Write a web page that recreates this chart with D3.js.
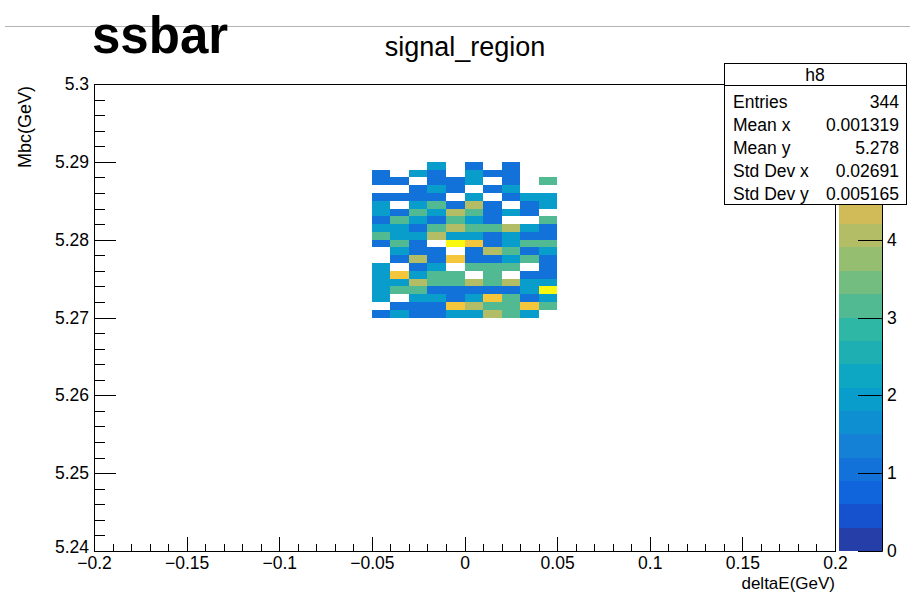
<!DOCTYPE html>
<html>
<head>
<meta charset="utf-8">
<script src="https://cdn.jsdelivr.net/npm/d3@7/dist/d3.min.js"></script>
<style>
  html, body { margin: 0; padding: 0; background: #fff; }
  svg { display: block; }
  text { font-family: "Liberation Sans", Arial, Helvetica, sans-serif; fill: #000; }
</style>
</head>
<body>
<svg id="c" width="910" height="593"></svg>
<script>
// ---- histogram h8: deltaE vs Mbc, 0.01 GeV x 0.001 GeV bins ----
const xBinLow = [-0.05, -0.04, -0.03, -0.02, -0.01, 0.00, 0.01, 0.02, 0.03, 0.04];
const xBinWidth = 0.01;
// rows listed from the top (highest Mbc) down
const yBinLow = [5.289, 5.288, 5.287, 5.286, 5.285, 5.284, 5.283, 5.282, 5.281, 5.280,
                 5.279, 5.278, 5.277, 5.276, 5.275, 5.274, 5.273, 5.272, 5.271, 5.270];
const yBinWidth = 0.001;
const counts = [
  [0,0,0,2,0,1,0,1,0,0],
  [1,0,2,1,0,2,1,1,0,0],
  [1,1,0,1,1,2,0,1,0,3],
  [0,0,1,2,1,0,1,2,0,0],
  [1,1,1,1,0,2,0,1,2,2],
  [2,0,2,3,1,4,1,0,1,2],
  [2,1,3,2,4,3,1,2,1,0],
  [1,3,2,1,3,2,1,0,0,3],
  [2,2,1,3,4,3,3,4,2,1],
  [3,2,2,4,2,2,1,2,1,1],
  [1,3,1,0,6,5,1,2,3,3],
  [0,2,1,1,0,1,4,3,1,2],
  [0,1,4,1,5,1,1,2,3,1],
  [2,0,1,2,0,3,3,3,0,1],
  [2,5,2,3,3,0,3,0,1,1],
  [2,2,4,3,3,4,3,4,2,2],
  [2,3,3,1,1,1,1,1,2,6],
  [2,0,2,2,1,2,5,3,1,2],
  [0,1,1,1,5,4,3,3,5,3],
  [1,2,1,1,2,2,4,3,2,0]
];

// axis ranges and tick values
const xDomain = [-0.2, 0.2];
const yDomain = [5.24, 5.30];
const zDomain = [0, 6];
const xMajorTicks = [-0.2, -0.15, -0.1, -0.05, 0, 0.05, 0.1, 0.15, 0.2];
const yMajorTicks = [5.24, 5.25, 5.26, 5.27, 5.28, 5.29, 5.30];
// the upper part of the colour bar sits under the stats box
const zTicks = [0, 1, 2, 3, 4];
const nContours = 20;

// stats box
const statTitle = "h8";
const statNames = ["Entries", "Mean x", "Mean y", "Std Dev x", "Std Dev y"];
const statValues = ["344", "0.001319", "5.278", "0.02691", "0.005165"];

const mainTitle = "signal_region";
const tag = "ssbar";
const xTitle = "deltaE(GeV)";
const yTitle = "Mbc(GeV)";

// ---- "bird" gradient palette, 255 colours ----
const birdStops = [0.0000, 0.1250, 0.2500, 0.3750, 0.5000, 0.6250, 0.7500, 0.8750, 1.0000];
const birdR = [0.2082, 0.0592, 0.0780, 0.0232, 0.1802, 0.5301, 0.8186, 0.9956, 0.9764];
const birdG = [0.1664, 0.3599, 0.5041, 0.6419, 0.7178, 0.7492, 0.7328, 0.7862, 0.9832];
const birdB = [0.5293, 0.8684, 0.8385, 0.7914, 0.6425, 0.4662, 0.3499, 0.1968, 0.0539];
const nColors = 255;
const palette = [];
for (let g = 1; g < birdStops.length; g++) {
  const n = Math.floor(nColors * birdStops[g]) - Math.floor(nColors * birdStops[g - 1]);
  for (let c = 0; c < n; c++) {
    const f = c / n;
    const r = birdR[g - 1] + f * (birdR[g] - birdR[g - 1]);
    const gg = birdG[g - 1] + f * (birdG[g] - birdG[g - 1]);
    const b = birdB[g - 1] + f * (birdB[g] - birdB[g - 1]);
    palette.push(d3.rgb(r * 255, gg * 255, b * 255).formatHex());
  }
}
function levelColor(level) {
  let idx = Math.floor((level + 0.99) * nColors / nContours);
  idx = Math.max(0, Math.min(nColors - 1, idx));
  return palette[idx];
}
function zColor(z) {
  const scale = nContours / (zDomain[1] - zDomain[0]);
  const level = Math.floor(0.01 + (z - zDomain[0]) * scale);
  return levelColor(level);
}

// ---- layout ----
const frame = { left: 94, right: 835, top: 84, bottom: 551 };
const bar = { left: 839, right: 882 };

const svg = d3.select("#c");
const x = d3.scaleLinear().domain(xDomain).range([frame.left, frame.right]);
const y = d3.scaleLinear().domain(yDomain).range([frame.bottom, frame.top]);
const zAxisScale = d3.scaleLinear().domain(zDomain).range([frame.bottom, frame.top]);
const fmt = v => String(+v.toFixed(3)).replace("-", "\u2212");

// separator line across the top
svg.append("line")
  .attr("x1", 5).attr("x2", 910).attr("y1", 26.5).attr("y2", 26.5)
  .attr("stroke", "#b4b4b4").attr("stroke-width", 1);

// tag and title
svg.append("text").attr("x", 92).attr("y", 53)
  .attr("font-size", 51).attr("font-weight", "bold").text(tag);
svg.append("text").attr("x", 465).attr("y", 56)
  .attr("font-size", 27).attr("text-anchor", "middle").text(mainTitle);

// heatmap cells
const cells = [];
counts.forEach((row, i) => row.forEach((v, j) => {
  if (v > 0) cells.push({ xl: xBinLow[j], yl: yBinLow[i], v });
}));
svg.append("g").selectAll("rect").data(cells).join("rect")
  .attr("x", d => x(d.xl))
  .attr("width", d => x(d.xl + xBinWidth) - x(d.xl))
  .attr("y", d => y(d.yl + yBinWidth))
  .attr("height", d => y(d.yl) - y(d.yl + yBinWidth))
  .attr("fill", d => zColor(d.v))
  .attr("shape-rendering", "crispEdges");

// x axis: minor then major ticks, pointing into the frame
const xMinor = d3.range(-0.2, 0.2001, 0.01).map(v => +v.toFixed(3));
svg.append("g").attr("transform", `translate(0,${frame.bottom})`)
  .call(d3.axisBottom(x).tickValues(xMinor).tickSize(-7).tickFormat(""))
  .call(g => g.select(".domain").remove());
const gx = svg.append("g").attr("transform", `translate(0,${frame.bottom})`)
  .call(d3.axisBottom(x).tickValues(xMajorTicks).tickSize(-14).tickPadding(6).tickFormat(fmt));
gx.select(".domain").remove();
gx.selectAll("text").attr("font-size", 17.5);

// y axis
const yMinor = d3.range(5.24, 5.3001, 0.002).map(v => +v.toFixed(4));
svg.append("g").attr("transform", `translate(${frame.left},0)`)
  .call(d3.axisLeft(y).tickValues(yMinor).tickSize(-11).tickFormat(""))
  .call(g => g.select(".domain").remove());
const gy = svg.append("g").attr("transform", `translate(${frame.left},0)`)
  .call(d3.axisLeft(y).tickValues(yMajorTicks).tickSize(-22).tickPadding(5).tickFormat(fmt));
gy.select(".domain").remove();
gy.selectAll("text").attr("font-size", 17.5);
// lowest label sits a touch higher so it clears the first x label
gy.selectAll(".tick").filter(d => d === yDomain[0]).select("text").attr("dy", "0.1em");

svg.selectAll(".tick line").attr("stroke", "#000").attr("shape-rendering", "crispEdges");

// frame
svg.append("rect")
  .attr("x", frame.left + 0.5).attr("y", frame.top + 0.5)
  .attr("width", frame.right - frame.left).attr("height", frame.bottom - frame.top)
  .attr("fill", "none").attr("stroke", "#000").attr("stroke-width", 1);

// axis titles
svg.append("text").attr("x", frame.right).attr("y", 589)
  .attr("font-size", 17).attr("text-anchor", "end").text(xTitle);
svg.append("text").attr("transform", `translate(31,${frame.top + 2}) rotate(-90)`)
  .attr("font-size", 18).attr("text-anchor", "end").text(yTitle);

// colour bar
const levels = d3.range(nContours);
const dz = (zDomain[1] - zDomain[0]) / nContours;
svg.append("g").selectAll("rect").data(levels).join("rect")
  .attr("x", bar.left).attr("width", bar.right - bar.left)
  .attr("y", l => zAxisScale(zDomain[0] + (l + 1) * dz))
  .attr("height", l => zAxisScale(zDomain[0] + l * dz) - zAxisScale(zDomain[0] + (l + 1) * dz))
  .attr("fill", l => levelColor(l))
  .attr("shape-rendering", "crispEdges");
const gz = svg.append("g").attr("transform", `translate(${bar.right},0)`)
  .call(d3.axisRight(zAxisScale).tickValues(zTicks).tickSize(-24).tickPadding(5).tickFormat(d3.format("d")));
gz.select(".domain").attr("stroke", "#000");
gz.selectAll(".tick line").attr("stroke", "#000").attr("shape-rendering", "crispEdges");
gz.selectAll("text").attr("font-size", 17.5);

// stats box
const box = { left: 724, right: 906, top: 63, titleBottom: 85, bottom: 204 };
svg.append("rect")
  .attr("x", box.left + 0.5).attr("y", box.top + 0.5)
  .attr("width", box.right - box.left).attr("height", box.bottom - box.top)
  .attr("fill", "#fff").attr("stroke", "#000");
svg.append("line")
  .attr("x1", box.left).attr("x2", box.right)
  .attr("y1", box.titleBottom + 0.5).attr("y2", box.titleBottom + 0.5)
  .attr("stroke", "#000");
svg.append("text").attr("x", (box.left + box.right) / 2).attr("y", 81)
  .attr("font-size", 17.5).attr("text-anchor", "middle").text(statTitle);
const rowH = 23;
statNames.forEach((n, i) => {
  const by = 108 + rowH * i;
  svg.append("text").attr("x", 733).attr("y", by).attr("font-size", 17.5).text(n);
  svg.append("text").attr("x", 899).attr("y", by).attr("font-size", 17.5)
    .attr("text-anchor", "end").text(statValues[i]);
});
</script>
</body>
</html>
